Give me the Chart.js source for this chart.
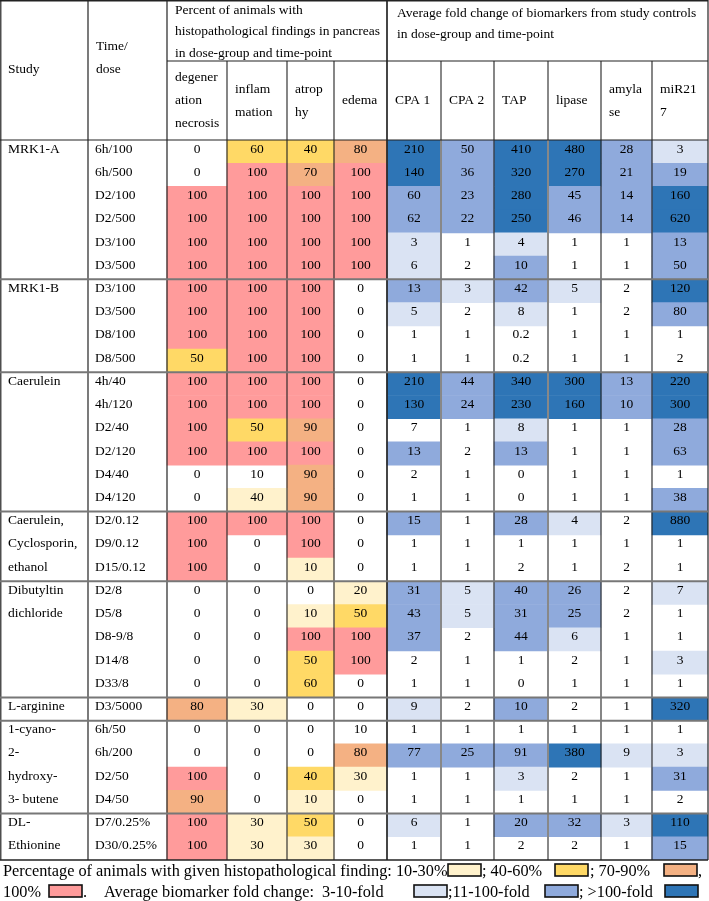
<!DOCTYPE html>
<html>
<head>
<meta charset="utf-8">
<title>Pancreas histopathology and biomarkers</title>
<script src="https://cdn.jsdelivr.net/npm/chart.js@4.4.1/dist/chart.umd.min.js"></script>
<style>
  html, body { margin: 0; padding: 0; background: #fff; overflow: hidden; }
  canvas { display: block; }
</style>
</head>
<body>
<canvas id="tableChart" width="709" height="901"></canvas>
<script>
const STUDY_LINES = [['MRK1-A'], ['MRK1-B'], ['Caerulein'], ['Caerulein,', 'Cyclosporin,', 'ethanol'],
    ['Dibutyltin', 'dichloride'], ['L-arginine'], ['1-cyano-', '2-', 'hydroxy-', '3- butene'], ['DL-', 'Ethionine']];
const GROUP_SIZES = [6, 4, 6, 3, 5, 1, 4, 2];

const TIME_DOSE = ['6h/100', '6h/500', 'D2/100', 'D2/500', 'D3/100', 'D3/500',
    'D3/100', 'D3/500', 'D8/100', 'D8/500',
    '4h/40', '4h/120', 'D2/40', 'D2/120', 'D4/40', 'D4/120',
    'D2/0.12', 'D9/0.12', 'D15/0.12',
    'D2/8', 'D5/8', 'D8-9/8', 'D14/8', 'D33/8',
    'D3/5000',
    '6h/50', '6h/200', 'D2/50', 'D4/50',
    'D7/0.25%', 'D30/0.25%'];

// percent of animals with finding
const DEGEN   = [0, 0, 100, 100, 100, 100, 100, 100, 100, 50, 100, 100, 100, 100, 0, 0, 100, 100, 100, 0, 0, 0, 0, 0, 80, 0, 0, 100, 90, 100, 100];
const INFLAM  = [60, 100, 100, 100, 100, 100, 100, 100, 100, 100, 100, 100, 50, 100, 10, 40, 100, 0, 0, 0, 0, 0, 0, 0, 30, 0, 0, 0, 0, 30, 30];
const ATROPHY = [40, 70, 100, 100, 100, 100, 100, 100, 100, 100, 100, 100, 90, 100, 90, 90, 100, 100, 10, 0, 10, 100, 50, 60, 0, 0, 0, 40, 10, 50, 30];
const EDEMA   = [80, 100, 100, 100, 100, 100, 0, 0, 0, 0, 0, 0, 0, 0, 0, 0, 0, 0, 0, 20, 50, 100, 100, 0, 0, 10, 80, 30, 0, 0, 0];

// shading class as printed (0 none, 1 10-30%, 2 40-60%, 3 70-90%, 4 100%)
const DEGEN_LV   = [0, 0, 4, 4, 4, 4, 4, 4, 4, 2, 4, 4, 4, 4, 0, 0, 4, 4, 4, 0, 0, 0, 0, 0, 3, 0, 0, 4, 3, 4, 4];
const INFLAM_LV  = [2, 4, 4, 4, 4, 4, 4, 4, 4, 4, 4, 4, 2, 4, 0, 1, 4, 0, 0, 0, 0, 0, 0, 0, 1, 0, 0, 0, 0, 1, 1];
const ATROPHY_LV = [2, 3, 4, 4, 4, 4, 4, 4, 4, 4, 4, 4, 3, 4, 3, 3, 4, 4, 1, 0, 1, 4, 2, 2, 0, 0, 0, 2, 1, 2, 1];
const EDEMA_LV   = [3, 4, 4, 4, 4, 4, 0, 0, 0, 0, 0, 0, 0, 0, 0, 0, 0, 0, 0, 1, 2, 4, 4, 0, 0, 0, 3, 1, 0, 0, 0];

// average fold change of biomarkers
const CPA1    = [210, 140, 60, 62, 3, 6, 13, 5, 1, 1, 210, 130, 7, 13, 2, 1, 15, 1, 1, 31, 43, 37, 2, 1, 9, 1, 77, 1, 1, 6, 1];
const CPA2    = [50, 36, 23, 22, 1, 2, 3, 2, 1, 1, 44, 24, 1, 2, 1, 1, 1, 1, 1, 5, 5, 2, 1, 1, 2, 1, 25, 1, 1, 1, 1];
const TAP     = [410, 320, 280, 250, 4, 10, 42, 8, 0.2, 0.2, 340, 230, 8, 13, 0, 0, 28, 1, 2, 40, 31, 44, 1, 0, 10, 1, 91, 3, 1, 20, 2];
const LIPASE  = [480, 270, 45, 46, 1, 1, 5, 1, 1, 1, 300, 160, 1, 1, 1, 1, 4, 1, 1, 26, 25, 6, 2, 1, 2, 1, 380, 2, 1, 32, 2];
const AMYLASE = [28, 21, 14, 14, 1, 1, 2, 2, 1, 1, 13, 10, 1, 1, 1, 1, 2, 1, 2, 2, 2, 1, 1, 1, 1, 1, 9, 1, 1, 3, 1];
const MIR217  = [3, 19, 160, 620, 13, 50, 120, 80, 1, 2, 220, 300, 28, 63, 1, 38, 880, 1, 1, 7, 1, 1, 3, 1, 320, 1, 3, 31, 2, 110, 15];

// shading class as printed (0 none, 1 3-10, 2 11-100, 3 >100)
const CPA1_LV    = [3, 3, 2, 2, 1, 1, 2, 1, 0, 0, 3, 3, 0, 2, 0, 0, 2, 0, 0, 2, 2, 2, 0, 0, 1, 0, 2, 0, 0, 1, 0];
const CPA2_LV    = [2, 2, 2, 2, 0, 0, 1, 0, 0, 0, 2, 2, 0, 0, 0, 0, 0, 0, 0, 1, 1, 0, 0, 0, 0, 0, 2, 0, 0, 0, 0];
const TAP_LV     = [3, 3, 3, 3, 1, 2, 2, 1, 0, 0, 3, 3, 1, 2, 0, 0, 2, 0, 0, 2, 2, 2, 0, 0, 2, 0, 2, 1, 0, 2, 0];
const LIPASE_LV  = [3, 3, 2, 2, 0, 0, 1, 0, 0, 0, 3, 3, 0, 0, 0, 0, 1, 0, 0, 2, 2, 1, 0, 0, 0, 0, 3, 0, 0, 2, 0];
const AMYLASE_LV = [2, 2, 2, 2, 0, 0, 0, 0, 0, 0, 2, 2, 0, 0, 0, 0, 0, 0, 0, 0, 0, 0, 0, 0, 0, 0, 1, 0, 0, 1, 0];
const MIR217_LV  = [1, 2, 3, 3, 2, 2, 3, 2, 0, 0, 3, 3, 2, 2, 0, 2, 3, 0, 0, 1, 0, 0, 1, 0, 3, 0, 1, 2, 0, 3, 2];

const SUB_HEADS = [['degener', 'ation', 'necrosis'], ['inflam', 'mation'], ['atrop', 'hy'], ['edema'],
    ['CPA 1'], ['CPA 2'], ['TAP'], ['lipase'], ['amyla', 'se'], ['miR21', '7']];

// ---- layout / style ----
const EDGES = [0, 88, 167, 227, 287, 334, 387, 441, 494, 548, 601, 652, 708]; // column edges
const HISTO_COLORS = ['rgba(0,0,0,0)', '#FFF2CC', '#FFD966', '#F4B183', '#FF9B9B'];
const BIO_COLORS = ['rgba(0,0,0,0)', '#DAE3F3', '#8FAADC', '#2E75B6'];
const FONT = '"Liberation Serif", "Times New Roman", serif';

const columns = [
    { values: DEGEN, levels: DEGEN_LV, pal: HISTO_COLORS },
    { values: INFLAM, levels: INFLAM_LV, pal: HISTO_COLORS },
    { values: ATROPHY, levels: ATROPHY_LV, pal: HISTO_COLORS },
    { values: EDEMA, levels: EDEMA_LV, pal: HISTO_COLORS },
    { values: CPA1, levels: CPA1_LV, pal: BIO_COLORS },
    { values: CPA2, levels: CPA2_LV, pal: BIO_COLORS },
    { values: TAP, levels: TAP_LV, pal: BIO_COLORS },
    { values: LIPASE, levels: LIPASE_LV, pal: BIO_COLORS },
    { values: AMYLASE, levels: AMYLASE_LV, pal: BIO_COLORS },
    { values: MIR217, levels: MIR217_LV, pal: BIO_COLORS }
];

function line(ctx, x0, y0, x1, y1, color, width) {
    ctx.beginPath();
    ctx.strokeStyle = color;
    ctx.lineWidth = width;
    ctx.moveTo(x0, y0);
    ctx.lineTo(x1, y1);
    ctx.stroke();
}

function text(ctx, s, x, y, align) {
    ctx.textAlign = align || 'left';
    ctx.fillText(s, x, y);
}

function box(ctx, x, y, color) {
    ctx.fillStyle = color;
    ctx.fillRect(x, y, 33, 12);
    ctx.strokeStyle = '#111';
    ctx.lineWidth = 1.6;
    ctx.strokeRect(x, y, 33, 12);
    ctx.fillStyle = '#000';
}

const tablePlugin = {
    id: 'tablePlugin',
    afterDatasetsDraw(chart) {
        const ctx = chart.ctx;
        const xs = chart.scales.x;
        const ys = chart.scales.y;
        const top = chart.chartArea.top;
        const bottom = chart.chartArea.bottom;
        const X = v => xs.getPixelForValue(v);
        const rowH = ys.getPixelForValue(1) - ys.getPixelForValue(0);
        ctx.save();

        // grid: vertical lines
        [0, 1, 2, 6, 12].forEach(i => line(ctx, X(EDGES[i]) + (i === 0 ? 0.8 : 0), 0, X(EDGES[i]) + (i === 0 ? 0.8 : 0), bottom, '#222', 1.2));
        [3, 4, 5, 8, 10, 11].forEach(i => line(ctx, X(EDGES[i]), 61, X(EDGES[i]), bottom, '#222', 1.1));
        [7, 9].forEach(i => line(ctx, X(EDGES[i]), 61, X(EDGES[i]), bottom, '#888', 2));
        line(ctx, X(EDGES[6]), 0, X(EDGES[6]), bottom, '#222', 1.2);

        // grid: horizontal lines
        line(ctx, 0, 0.8, X(708), 0.8, '#222', 1.4);
        line(ctx, X(EDGES[2]), 61, X(708), 61, '#222', 1.1);
        line(ctx, 0, top, X(708), top, '#222', 1.2);
        let r = 0;
        GROUP_SIZES.slice(0, -1).forEach(n => {
            r += n;
            const y = (ys.getPixelForValue(r - 1) + ys.getPixelForValue(r)) / 2;
            line(ctx, 0, y, X(708), y, '#777', 2);
        });
        line(ctx, 0, bottom, X(708), bottom, '#222', 1.4);

        // header text
        ctx.fillStyle = '#000';
        ctx.font = '13.5px ' + FONT;
        ctx.textBaseline = 'middle';
        text(ctx, 'Study', X(8), 69);
        text(ctx, 'Time/', X(96), 46);
        text(ctx, 'dose', X(96), 69);
        ['Percent of animals with', 'histopathological findings in pancreas', 'in dose-group and time-point']
            .forEach((s, k) => text(ctx, s, X(175), 10 + k * 21.5));
        ['Average fold change of biomarkers from study controls', 'in dose-group and time-point']
            .forEach((s, k) => text(ctx, s, X(397), 13 + k * 21.5));
        SUB_HEADS.forEach((lines, c) => {
            const y0 = 100.5 - (lines.length - 1) * 11.5;
            lines.forEach((s, k) => text(ctx, s, X(EDGES[c + 2] + 8), y0 + k * 23));
        });

        // body text
        ctx.textBaseline = 'alphabetic';
        let start = 0;
        GROUP_SIZES.forEach((n, g) => {
            STUDY_LINES[g].forEach((s, k) => text(ctx, s, X(8), ys.getPixelForValue(start + k) + 1));
            start += n;
        });
        TIME_DOSE.forEach((s, i) => {
            const y = ys.getPixelForValue(i) + 1;
            text(ctx, s, X(95), y);
            columns.forEach((col, c) => {
                text(ctx, String(col.values[i]), X((EDGES[c + 2] + EDGES[c + 3]) / 2), y, 'center');
            });
        });

        // legend beneath the table
        ctx.font = '16.3px ' + FONT;
        ctx.textBaseline = 'middle';
        const l1 = 872, l2 = 893;
        text(ctx, 'Percentage of animals with given histopathological finding: 10-30%', 3, l1);
        box(ctx, 448, l1 - 8, HISTO_COLORS[1]);
        text(ctx, '; 40-60%', 482, l1);
        box(ctx, 555, l1 - 8, HISTO_COLORS[2]);
        text(ctx, '; 70-90%', 590, l1);
        box(ctx, 664, l1 - 8, HISTO_COLORS[3]);
        text(ctx, ',', 698, l1);
        text(ctx, '100%', 3, l2);
        box(ctx, 49, l2 - 8, HISTO_COLORS[4]);
        text(ctx, '.', 83, l2);
        text(ctx, 'Average biomarker fold change:  3-10-fold', 104, l2);
        box(ctx, 414, l2 - 8, BIO_COLORS[1]);
        text(ctx, ';11-100-fold', 448, l2);
        box(ctx, 545, l2 - 8, BIO_COLORS[2]);
        text(ctx, '; >100-fold', 579, l2);
        box(ctx, 665, l2 - 8, BIO_COLORS[3]);

        ctx.restore();
    }
};

const ctx = document.getElementById('tableChart').getContext('2d');

const tableChart = new Chart(ctx, {
    type: 'bar',
    data: {
        labels: TIME_DOSE.map((_, i) => i),
        datasets: columns.map((col, c) => ({
            label: SUB_HEADS[c].join(''),
            data: col.values.map(() => [EDGES[c + 2], EDGES[c + 3]]),
            backgroundColor: col.levels.map(l => col.pal[l]),
            borderWidth: 0,
            barPercentage: 1,
            categoryPercentage: 1,
            grouped: false
        }))
    },
    options: {
        indexAxis: 'y',
        responsive: false,
        animation: false,
        layout: { padding: { top: 140, bottom: 41, left: 0, right: 1 } },
        plugins: {
            legend: { display: false },
            tooltip: { enabled: false }
        },
        scales: {
            x: { type: 'linear', min: 0, max: 708, display: false },
            y: { type: 'category', offset: true, display: false }
        }
    },
    plugins: [tablePlugin]
});
</script>
</body>
</html>
